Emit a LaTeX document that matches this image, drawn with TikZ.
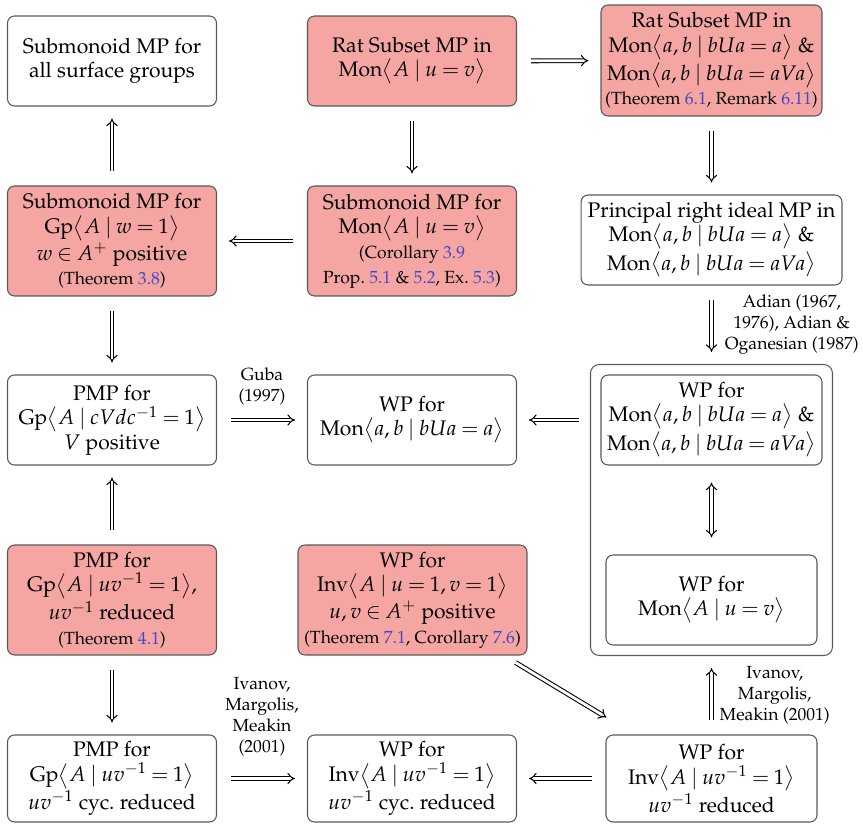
\documentclass[tikz,border=0pt]{standalone}
\usepackage[T1]{fontenc}
\usepackage{amsmath,amssymb}
\usepackage{mathpazo}
\usepackage{xcolor}
\usepackage{tikz}
\usetikzlibrary{positioning,arrows.meta,fit,calc}

\definecolor{donefill}{RGB}{245,166,163}
\definecolor{linkblue}{RGB}{70,70,200}
\newcommand{\pres}[3]{\mathrm{#1}\bigl\langle #2 \mid #3 \bigr\rangle}
\newcommand{\lref}[1]{\textcolor{linkblue}{#1}}
\thickmuskip=3.8mu plus 2mu

\begin{document}
\begin{tikzpicture}[x=0.02cm, y=-0.02cm,
  prob/.style={draw=black!65, line width=0.6pt, rounded corners=4pt, minimum width=4.18cm,
               minimum height=1.8cm, font=\large, align=center, inner sep=2pt},
  done/.style={prob, fill=donefill},
  impl/.style={double, line width=0.6pt, double distance=1.6pt, -{Implies},
               shorten <=0.28cm, shorten >=0.24cm},
  lbl/.style={font=\normalsize, align=center}]
\useasboundingbox (0,0) rectangle (863,825);
% top row
\node[prob] (sg) at (112,61) {Submonoid MP for\\all surface groups};
\node[done] (ratA) at (412,61) {Rat Subset MP in\\$\pres{Mon}{A}{u=v}$};
\node[done, minimum width=4.42cm, minimum height=2.22cm] (ratAB) at (711.5,60.5)
  {Rat Subset MP in\\$\pres{Mon}{a,b}{bUa=a}$ \&\\$\pres{Mon}{a,b}{bUa=aVa}$\\
   {\normalsize(Theorem \lref{6.1}, Remark \lref{6.11})}};
% second row
\node[done, minimum height=2.2cm] (subgp) at (112,241)
  {Submonoid MP for\\$\pres{Gp}{A}{w=1}$\\$w\in A^{+}$ positive\\{\normalsize(Theorem \lref{3.8})}};
\node[done, minimum height=2.2cm] (submon) at (412,241)
  {Submonoid MP for\\$\pres{Mon}{A}{u=v}$\\{\normalsize(Corollary \lref{3.9}}\\
   {\normalsize Prop.~\lref{5.1} \& \lref{5.2}, Ex.~\lref{5.3})}};
\node[prob, minimum width=5.22cm] (pri) at (711.5,240)
  {Principal right ideal MP in\\$\pres{Mon}{a,b}{bUa=a}$ \&\\$\pres{Mon}{a,b}{bUa=aVa}$};
% third row
\node[prob] (pmpc) at (112,420) {PMP for\\$\pres{Gp}{A}{cVdc^{-1}=1}$\\$V$ positive};
\node[prob] (wpab) at (412,420) {WP for\\$\pres{Mon}{a,b}{bUa=a}$};
\node[prob, minimum width=4.42cm] (wpab2) at (711.5,420)
  {WP for\\$\pres{Mon}{a,b}{bUa=a}$ \&\\$\pres{Mon}{a,b}{bUa=aVa}$};
\node[prob, minimum width=4.22cm] (wpA) at (711.5,600) {WP for\\$\pres{Mon}{A}{u=v}$};
\node[draw=black!65, line width=0.6pt, rounded corners=5pt, inner sep=0.2cm, fit=(wpab2)(wpA)] (wpbox) {};
% fourth row
\node[done, minimum height=2.2cm] (pmpred) at (112,600)
  {PMP for\\$\pres{Gp}{A}{uv^{-1}=1}$,\\$uv^{-1}$ reduced\\{\normalsize(Theorem \lref{4.1})}};
\node[done, minimum width=4.58cm, minimum height=2.2cm] (wpinv) at (412.5,600)
  {WP for\\$\pres{Inv}{A}{u=1, v=1}$\\$u,v\in A^{+}$ positive\\
   {\normalsize(Theorem \lref{7.1}, Corollary \lref{7.6})}};
% bottom row
\node[prob, minimum height=1.74cm] (pmpcyc) at (112,778.5)
  {PMP for\\$\pres{Gp}{A}{uv^{-1}=1}$\\$uv^{-1}$ cyc.\ reduced};
\node[prob, minimum height=1.74cm] (wpinvcyc) at (412,778.5)
  {WP for\\$\pres{Inv}{A}{uv^{-1}=1}$\\$uv^{-1}$ cyc.\ reduced};
\node[prob, minimum width=4.22cm, minimum height=1.74cm] (wpinvred) at (711.5,778.5)
  {WP for\\$\pres{Inv}{A}{uv^{-1}=1}$\\$uv^{-1}$ reduced};
% implications
\foreach \a/\b in {subgp/sg,ratA/submon,ratA/ratAB,submon/subgp,ratAB/pri,
                   subgp/pmpc,pmpred/pmpc,pmpred/pmpcyc,wpinvred/wpinvcyc}
  \draw[impl] (\a) -- (\b);
\draw[impl, shorten <=0.22cm] (wpbox.west |- wpab) -- (wpab);
\draw[impl] (pmpc) -- node[lbl, above=5pt]{Guba\\(1997)} (wpab);
\draw[impl] (pmpcyc) -- node[lbl, above=9pt]{Ivanov,\\Margolis,\\Meakin\\(2001)} (wpinvcyc);
\draw[impl] (pri) -- node[lbl, right=4pt]{Adian (1967,\\1976), Adian \&\\Oganesian (1987)} (wpbox);
\draw[impl] (wpinvred) -- node[lbl, right=1pt]{Ivanov,\\Margolis,\\Meakin (2001)} (wpbox);
\draw[impl, {Implies}-{Implies}, shorten <=0.34cm, shorten >=0.34cm] (wpab2) -- (wpA);
\draw[impl, shorten <=0pt, shorten >=0pt] ([shift={(-12,7)}]wpinv.south east)
  -- ([shift={(1,-17)}]wpinvred.north west);
\end{tikzpicture}
\end{document}
